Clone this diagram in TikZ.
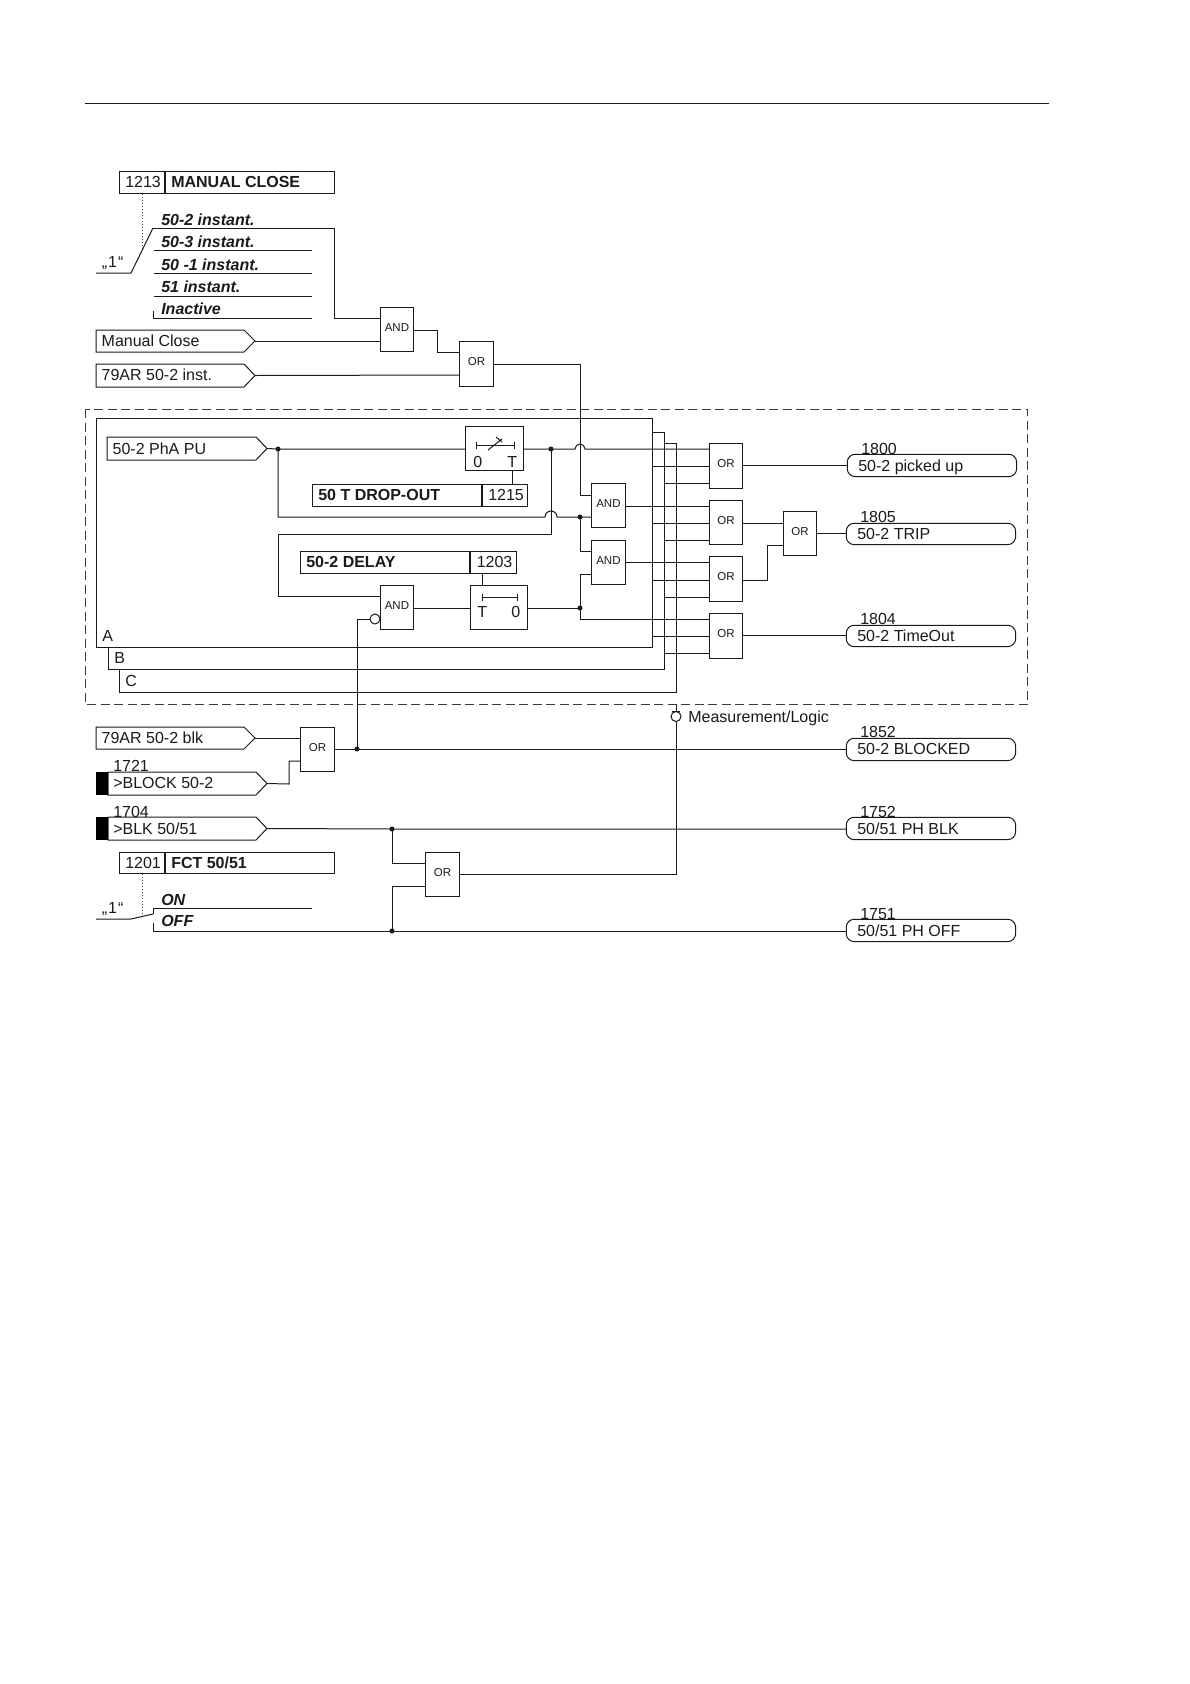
\documentclass[tikz,border=0pt]{standalone}
\usepackage{fontspec}
\setmainfont{Liberation Sans}
\newcount\txtcnt
\tikzset{
  wire/.style={line width=1pt,draw=ink},
  cellbox/.style={draw=ink,line width=1pt,rectangle,inner sep=0pt,outer sep=0pt},
  gatebox/.style={cellbox,font=\fontsize{11.5pt}{13pt}\selectfont,text=ink},
  pillbox/.style={cellbox,rounded corners=8pt},
  dotj/.style={circle,fill=ink,inner sep=0pt,minimum size=5pt},
  labeltxt/.style={anchor=base west,inner sep=0pt,outer sep=0pt,text=ink,font=\fontsize{16pt}{18pt}\selectfont},
  boldtxt/.style={labeltxt,font=\fontsize{16pt}{18pt}\selectfont\bfseries},
  bitxt/.style={labeltxt,font=\fontsize{16pt}{18pt}\selectfont\bfseries\itshape},
  dashframe/.style={draw=ink!85,line width=.9pt,dash pattern=on 9pt off 4.5pt},
  dotline/.style={draw=ink!80,line width=.9pt,dash pattern=on 1.5pt off 1.5pt}
}
\definecolor{ink}{HTML}{1A1A1A}
% text: style, left x, centre y of capitals, text
\newcommand{\txt}[4]{\global\advance\txtcnt by 1\node[#1] (t\the\txtcnt) at (#2+0.3,#3+5.7) {#4};}
% rectangle node from corners
\newcommand{\cell}[6][cellbox]{\node[#1,minimum width=#4pt-#2pt-0.6pt,minimum height=#5pt-#3pt-0.6pt] (#6) at ({(#2+#4-0.1)/2},{(#3+#5-0.1)/2}) {};}
\newcommand{\gate}[6]{\node[gatebox,minimum width=#4pt-#2pt-0.6pt,minimum height=#5pt-#3pt-0.6pt] (#1) at ({(#2+#4-0.1)/2},{(#3+#5-0.1)/2}) {\raisebox{4pt}{#6}};}
% input tag: name, x0, xbody, xtip, ytop, ybottom
\newcommand{\intag}[6]{\draw[wire,line join=miter] (#2,#5) -- (#3,#5) -- (#4,{(#5+#6)/2}) -- (#3,#6) -- (#2,#6) -- cycle;\coordinate (#1) at (#4,{(#5+#6)/2});}
\begin{document}
\begin{tikzpicture}[x=1pt,y=-1pt]
\useasboundingbox[fill=white] (0,0) rectangle (1190,1684);
% page rule
\draw[line width=1pt,draw=ink] (85,103) -- (1048.5,103);

% ---- top: 1213 setting
\cell{119}{171}{165}{194}{p1213}
\cell{165}{171}{335}{194}{p1213n}
\txt{labeltxt}{125}{182}{1213}
\txt{boldtxt}{171}{182}{MANUAL CLOSE}
\coordinate (sw1a) at (96,273);
\coordinate (sw1b) at (131,273);
\coordinate (sw1c) at (153,228);
\coordinate (mc2) at (334.7,228);
\draw[dotline] (p1213.south -| 142,0) -- (142,250);
\draw[wire] (sw1a) -- (sw1b) -- (sw1c);
\txt{labeltxt}{101.5}{262}{„\kern1pt 1\kern1pt “}
\txt{bitxt}{161}{220}{50-2 instant.}
\txt{bitxt}{161}{242}{50-3 instant.}
\txt{bitxt}{161}{265}{50 -1 instant.}
\txt{bitxt}{161}{287}{51 instant.}
\txt{bitxt}{161}{309}{Inactive}
\draw[wire] (153.5,250) -- (312,250);
\draw[wire] (153.5,273) -- (312,273);
\draw[wire] (153.5,296) -- (312,296);
\draw[wire] (153.5,311) -- (153.5,318) -- (312,318);

\gate{and1}{380}{307}{414}{352}{AND}
\gate{or1}{459}{341}{494}{387}{OR}
\coordinate (and1i1) at (380,318);
\coordinate (and1i2) at (380,341);
\coordinate (and1o) at (414,330);
\coordinate (or1i1) at (459,352);
\coordinate (or1i2) at (459,375);
\coordinate (or1o) at (494,364);
\intag{tmc}{96}{244}{255}{330}{352}
\txt{labeltxt}{101.4}{341}{Manual Close}
\intag{tar}{96}{244}{255}{364}{387}
\txt{labeltxt}{101.4}{375}{79AR 50-2 inst.}
\draw[wire] (sw1c) -- (mc2) |- (and1i1);
\draw[wire] (tmc) -- (and1i2);
\draw[wire] (tar) -- (or1i2);
\draw[wire] (and1o) -- ++(23,0) |- (or1i1);

% ---- dashed frame
\draw[dashframe] (85,409) rectangle (1027.5,704);

% ---- A B C frames
\cell{96}{418}{653}{648}{frameA}
\draw[wire] (108,647.5) |- (664,669.5) |- (652.6,432);
\draw[wire] (119,669.5) |- (676,692.7) |- (664,443);
\txt{labeltxt}{102}{636}{A}
\txt{labeltxt}{114}{658}{B}
\txt{labeltxt}{125}{681}{C}

% ---- pick-up path
\intag{tpu}{107}{256}{267}{437}{460}
\txt{labeltxt}{112.4}{449}{50-2 PhA PU}
\node[dotj] (j1) at (278,449) {};
\cell{465}{426}{524}{471}{tm1}
\draw[wire] (476,441.5) -- (476,448.5) (514,441.5) -- (514,448.5) (476,445) -- (514,445);
\draw[wire] (488,450) -- (502,439) (496,437) -- (502,442);
\txt{labeltxt}{473}{462}{0}
\txt{labeltxt}{507}{462}{T}
\cell{312}{484}{482}{507}{pdo}
\cell{482}{484}{528}{507}{pdon}
\txt{boldtxt}{318}{495}{50 T DROP-OUT}
\txt{labeltxt}{488}{495}{1215}
\draw[wire] (tm1.south -| 512,0) -- (pdon.north -| 512,0);

\cell{300}{551}{470}{574}{pdl}
\cell{470}{551}{517}{574}{pdln}
\txt{boldtxt}{306}{562}{50-2 DELAY}
\txt{labeltxt}{476.5}{562}{1203}
\gate{and3}{380}{585}{414}{630}{AND}
\cell{470}{585}{528}{630}{tm2}
\draw[wire] (482,593.5) -- (482,600.5) (517,593.5) -- (517,600.5) (482,597) -- (517,597);
\txt{labeltxt}{477}{612}{T}
\txt{labeltxt}{511}{612}{0}
\draw[wire] (pdln.south -| 482,0) -- (tm2.north -| 482,0);
\node[circle,draw=ink,line width=1pt,minimum size=10pt,inner sep=0pt,outer sep=0pt] (inv) at (375,619) {};

% AND gates right of frame
\gate{and2}{591}{483}{626}{528}{AND}
\gate{and4}{591}{540}{626}{585}{AND}
\node[dotj] (j2) at (551,449) {};
\node[dotj] (j3) at (580,517) {};
\node[dotj] (j4) at (580,608) {};

% OR gates
\gate{ora}{709}{443}{743}{489}{OR}
\gate{orb}{709}{500}{743}{545}{OR}
\gate{orc}{709}{556}{743}{602}{OR}
\gate{ord}{709}{613}{743}{659}{OR}
\gate{ore}{783}{511}{817}{556}{OR}

% wires of the logic
\draw[wire] (tpu) -- (j1.center) -- (tm1.west |- j1);
\draw[wire] (tm1.east |- j2) -- (j2.center) -- (575,449) arc[start angle=180,end angle=360,radius=5] -- (ora.west |- j2);
\draw[wire] (j1.center) |- (545,517) arc[start angle=180,end angle=360,radius=6] -- (j3.center) -- (and2.west |- j3);
\draw[wire] (j2.center) -- (551,534) -| (278,596) -- (and3.west |- 278,596);
\draw[wire] (or1o) -- (580,364) |- (and2.west |- 580,495);
\draw[wire] (j3.center) |- (and4.west |- 580,551);
\draw[wire] (j4.center) |- (and4.west |- 580,574);
\draw[wire] (j4.center) |- (ord.west |- 580,619);
\draw[wire] (and3.east |- 0,608) -- (tm2.west |- 0,608);
\draw[wire] (tm2.east |- j4) -- (j4.center);
\draw[wire] (and2.east |- 0,506) -- (orb.west |- 0,506);
\draw[wire] (and4.east |- 0,562) -- (orc.west |- 0,562);
% B and C inputs of the OR gates
\draw[wire] (652.6,466) -- (ora.west |- 0,466);
\draw[wire] (664,483) -- (ora.west |- 0,483);
\draw[wire] (652.6,523) -- (orb.west |- 0,523);
\draw[wire] (664,540) -- (orb.west |- 0,540);
\draw[wire] (652.6,580) -- (orc.west |- 0,580);
\draw[wire] (664,597) -- (orc.west |- 0,597);
\draw[wire] (652.6,636) -- (ord.west |- 0,636);
\draw[wire] (664,653) -- (ord.west |- 0,653);
\draw[wire] (orb.east |- 0,523) -- (ore.west |- 0,523);
\draw[wire] (orc.east |- 0,580) -| (767,545) -- (ore.west |- 0,545);

% outputs
\cell[pillbox]{847}{454}{1017}{477}{p1800}
\cell[pillbox]{846}{523}{1016}{545}{p1805}
\cell[pillbox]{846}{625}{1016}{647}{p1804}
\cell[pillbox]{846}{738}{1016}{761}{p1852}
\cell[pillbox]{846}{817}{1016}{840}{p1752}
\cell[pillbox]{846}{919}{1016}{942}{p1751}
\draw[wire] (ora.east |- p1800) -- (p1800.west);
\draw[wire] (ore.east |- p1805) -- (p1805.west);
\draw[wire] (ord.east |- p1804) -- (p1804.west);
\txt{labeltxt}{861}{449}{1800}
\txt{labeltxt}{858}{466}{50-2 picked up}
\txt{labeltxt}{860}{517}{1805}
\txt{labeltxt}{857}{534}{50-2 TRIP}
\txt{labeltxt}{860}{619}{1804}
\txt{labeltxt}{857}{636}{50-2 TimeOut}
\txt{labeltxt}{860}{732}{1852}
\txt{labeltxt}{857}{749}{50-2 BLOCKED}
\txt{labeltxt}{860}{812}{1752}
\txt{labeltxt}{857}{829}{50/51 PH BLK}
\txt{labeltxt}{860}{914}{1751}
\txt{labeltxt}{857}{931}{50/51 PH OFF}

% ---- blocking part
\intag{tblk}{96}{244}{255}{727}{749}
\txt{labeltxt}{101.4}{738}{79AR 50-2 blk}
\intag{tb2}{108}{256}{267}{772}{795}
\fill[black] (96,772) rectangle (108,795);
\txt{labeltxt}{113}{766}{1721}
\txt{labeltxt}{113}{783}{>BLOCK 50-2}
\intag{tb3}{108}{256}{267}{817}{840}
\fill[black] (96,817) rectangle (108,840);
\txt{labeltxt}{113}{812}{1704}
\txt{labeltxt}{113}{829}{>BLK 50/51}
\gate{orf}{300}{727}{335}{772}{OR}
\gate{org}{425}{852}{460}{897}{OR}
\node[dotj] (j5) at (357,749) {};
\node[dotj] (j6) at (392,829) {};
\node[dotj] (j7) at (392,931) {};
\draw[wire] (tblk) -- (orf.west |- tblk);
\draw[wire] (tb2) -- (289,784) |- (orf.west |- 0,761);
\draw[wire] (orf.east |- j5) -- (j5.center) -- (p1852.west |- j5);
\draw[wire] (inv.west) -| (j5.center);
\draw[wire] (tb3) -- (j6.center) -- (p1752.west |- j6);
\draw[wire] (j6.center) |- (org.west |- 0,863);
\draw[wire] (j7.center) |- (org.west |- 0,886);

% 1201 setting
\cell{119}{852}{165}{874}{p1201}
\cell{165}{852}{335}{874}{p1201n}
\txt{labeltxt}{125}{863}{1201}
\txt{boldtxt}{171}{863}{FCT 50/51}
\coordinate (sw2a) at (96,919);
\coordinate (sw2b) at (131,919);
\coordinate (sw2c) at (153,914);
\draw[dotline] (p1201.south -| 142,0) -- (142,916);
\draw[wire] (sw2a) -- (sw2b) -- (sw2c);
\txt{labeltxt}{101.5}{908}{„\kern1pt 1\kern1pt “}
\txt{bitxt}{161}{900}{ON}
\txt{bitxt}{161}{921}{OFF}
\draw[wire] (153.5,914) -- (153.5,908) -- (312,908);
\draw[wire] (153.5,923) -- (153.5,931) -- (j7.center) -- (p1751.west |- j7);

% Measurement/Logic
\node[circle,draw=ink,line width=1pt,minimum size=10pt,inner sep=0pt,outer sep=0pt] (ml) at (676,716.5) {};
\draw[wire] (org.east |- 0,874) -- (676,874) -- (ml.south);
\draw[wire] (ml.north) -- (676,704);
\draw[wire] (672,711) -- (680,711);
\txt{labeltxt}{688}{716.5}{Measurement/Logic}
\end{tikzpicture}
\end{document}
